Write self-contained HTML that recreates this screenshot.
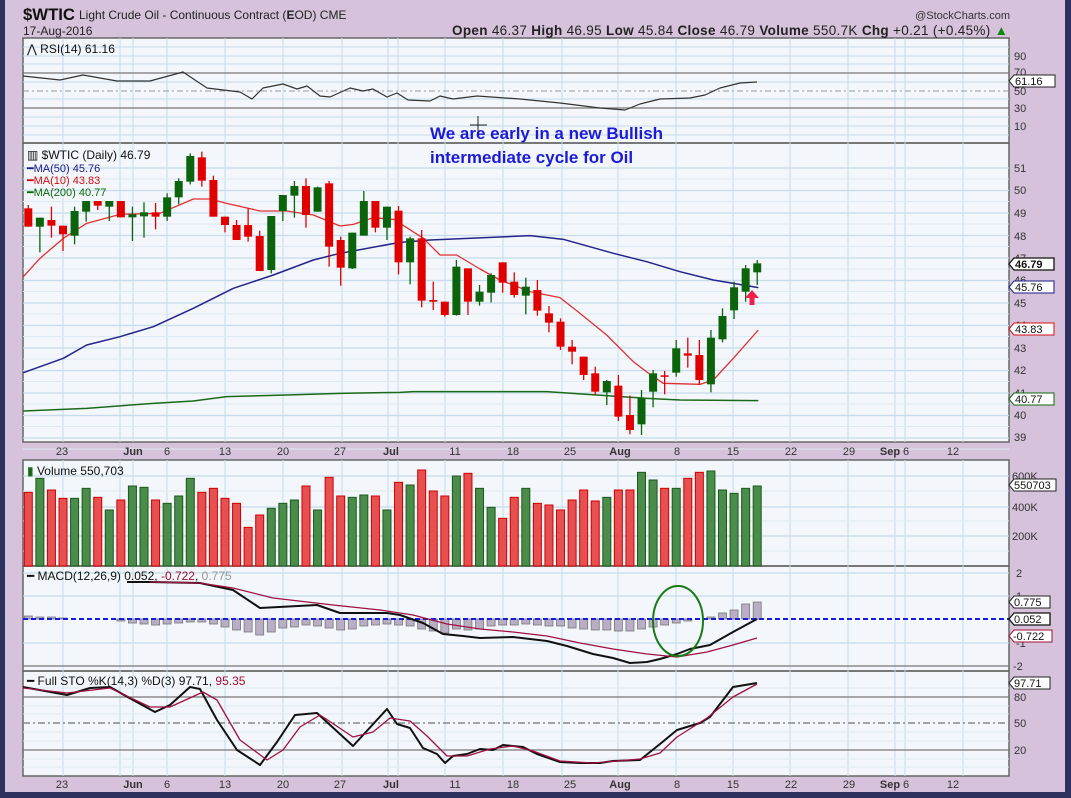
<!DOCTYPE html>
<html><head><meta charset="utf-8"><style>
html,body{margin:0;padding:0;background:#d6c2da;}
svg{display:block;font-family:"Liberation Sans",Arial,sans-serif;}
</style></head><body>
<svg id="s" width="1071" height="798" viewBox="0 0 1071 798" xmlns="http://www.w3.org/2000/svg">
<rect x="0" y="0" width="1071" height="798" fill="#d6c2da"/>
<rect x="0" y="0" width="5" height="798" fill="#2e3160"/>
<rect x="1065" y="0" width="6" height="798" fill="#2e3160"/>
<rect x="0" y="792" width="1071" height="6" fill="#2e3160"/>
<g id="panels"></g>
<g id="grid"></g>
<g id="data"></g>
<!-- header -->
<text x="23" y="20" font-size="17" font-weight="bold" fill="#111" textLength="52" lengthAdjust="spacingAndGlyphs">$WTIC</text>
<text x="79" y="19" font-size="12" fill="#222">Light Crude Oil - Continuous Contract (<tspan font-weight="bold">E</tspan>OD) CME</text>
<text x="23" y="35" font-size="12" fill="#222">17-Aug-2016</text>
<text x="1010" y="19" font-size="11" fill="#333" text-anchor="end">@StockCharts.com</text>
<text x="452" y="35" font-size="13.5" fill="#222" textLength="556" lengthAdjust="spacing"><tspan font-weight="bold">Open</tspan> 46.37  <tspan font-weight="bold">High</tspan> 46.95  <tspan font-weight="bold">Low</tspan> 45.84  <tspan font-weight="bold">Close</tspan> 46.79  <tspan font-weight="bold">Volume</tspan> 550.7K  <tspan font-weight="bold">Chg</tspan> +0.21 (+0.45%) <tspan fill="#0a8a0a">▲</tspan></text>
<!-- panel titles -->
<text x="27" y="53" font-size="12" fill="#111">⋀ RSI(14) 61.16</text>
<text x="27" y="159" font-size="12" fill="#111">▥ $WTIC (Daily) 46.79</text>
<text x="27" y="172" font-size="11" fill="#1a1a8a">━MA(50) 45.76</text>
<text x="27" y="184" font-size="11" fill="#d01010">━MA(10) 43.83</text>
<text x="27" y="196" font-size="11" fill="#0a6a0a">━MA(200) 40.77</text>
<text x="27" y="475" font-size="12" fill="#111"><tspan fill="#1a6a1a">▮</tspan> Volume 550,703</text>
<text x="27" y="580" font-size="12" fill="#111">━ MACD(12,26,9) 0.052, <tspan fill="#a01030">-0.722</tspan>, <tspan fill="#999">0.775</tspan></text>
<text x="27" y="685" font-size="12" fill="#111">━ Full STO %K(14,3) %D(3) 97.71, <tspan fill="#a01030">95.35</tspan></text>
<!-- annotation -->
<text x="430" y="139" font-size="17" font-weight="bold" fill="#1a1ad8">We are early in a new Bullish</text>
<text x="430" y="163" font-size="17" font-weight="bold" fill="#1a1ad8">intermediate cycle for Oil</text>
<path d="M478 116V134M470 125H487" stroke="#222" stroke-width="1"/>
<!-- right axis labels -->
<g font-size="11" fill="#333">
<text x="1014" y="60">90</text><text x="1014" y="76">70</text><text x="1014" y="95">50</text><text x="1014" y="112">30</text><text x="1014" y="130">10</text>
<text x="1014" y="172">51</text><text x="1014" y="194">50</text><text x="1014" y="217">49</text><text x="1014" y="240">48</text><text x="1014" y="262">47</text><text x="1014" y="284">46</text><text x="1014" y="307">45</text><text x="1014" y="329">44</text><text x="1014" y="352">43</text><text x="1014" y="374">42</text><text x="1014" y="397">41</text><text x="1014" y="419">40</text><text x="1014" y="441">39</text>
<text x="1012" y="480">600K</text><text x="1012" y="511">400K</text><text x="1012" y="540">200K</text>
<text x="1016" y="577">2</text><text x="1016" y="600">1</text><text x="1016" y="647">-1</text><text x="1013" y="670">-2</text>
<text x="1014" y="701">80</text><text x="1014" y="727">50</text><text x="1014" y="754">20</text>
</g>
<g font-size="11" fill="#111">
<path d="M1009 81l5-6h41v12h-41z" fill="#fff" stroke="#222"/><text x="1015" y="85">61.16</text>
<path d="M1009 264l5-6h40v12h-40z" fill="#fff" stroke="#111" stroke-width="1.3"/><text x="1015" y="268" font-weight="bold">46.79</text>
<path d="M1009 287l5-6h40v12h-40z" fill="#fff" stroke="#1a1a8a"/><text x="1015" y="291">45.76</text>
<path d="M1009 329l5-6h40v12h-40z" fill="#fff" stroke="#d01010"/><text x="1015" y="333">43.83</text>
<path d="M1009 399l5-6h40v12h-40z" fill="#fff" stroke="#0a6a0a"/><text x="1015" y="403">40.77</text>
<path d="M1009 485l5-6h42v12h-42z" fill="#fff" stroke="#222"/><text x="1014" y="489">550703</text>
<path d="M1009 602l5-6h36v12h-36z" fill="#fff" stroke="#222"/><text x="1014" y="606">0.775</text>
<path d="M1009 619l5-6h36v12h-36z" fill="#fff" stroke="#111" stroke-width="1.3"/><text x="1014" y="623">0.052</text>
<path d="M1009 636l5-6h38v12h-38z" fill="#fff" stroke="#a01030"/><text x="1013" y="640">-0.722</text>
<path d="M1009 683l5-6h36v12h-36z" fill="#fff" stroke="#222"/><text x="1014" y="687">97.71</text>
</g>
<!-- date axes -->
<g font-size="11" fill="#333" text-anchor="middle">
<text x="62" y="455">23</text><text x="133" y="455" font-weight="bold">Jun</text><text x="167" y="455">6</text><text x="225" y="455">13</text><text x="283" y="455">20</text><text x="340" y="455">27</text><text x="391" y="455" font-weight="bold">Jul</text><text x="455" y="455">11</text><text x="513" y="455">18</text><text x="570" y="455">25</text><text x="620" y="455" font-weight="bold">Aug</text><text x="677" y="455">8</text><text x="733" y="455">15</text><text x="791" y="455">22</text><text x="849" y="455">29</text><text x="890" y="455" font-weight="bold">Sep</text><text x="906" y="455">6</text><text x="953" y="455">12</text>
<text x="62" y="788">23</text><text x="133" y="788" font-weight="bold">Jun</text><text x="167" y="788">6</text><text x="225" y="788">13</text><text x="283" y="788">20</text><text x="340" y="788">27</text><text x="391" y="788" font-weight="bold">Jul</text><text x="455" y="788">11</text><text x="513" y="788">18</text><text x="570" y="788">25</text><text x="620" y="788" font-weight="bold">Aug</text><text x="677" y="788">8</text><text x="733" y="788">15</text><text x="791" y="788">22</text><text x="849" y="788">29</text><text x="890" y="788" font-weight="bold">Sep</text><text x="906" y="788">6</text><text x="953" y="788">12</text>
</g>
</svg>
<script>
var NS="http://www.w3.org/2000/svg";
function el(parent,tag,attrs){var e=document.createElementNS(NS,tag);for(var k in attrs)e.setAttribute(k,attrs[k]);document.getElementById(parent).appendChild(e);return e;}
var L=23,R=1009;
var panels=[[38,143],[143,442],[460,566],[566,671],[671,776]];
panels.forEach(function(p){el("panels","rect",{x:L,y:p[0],width:R-L,height:p[1]-p[0],fill:"#f3f6fa"});});
[63,120,133,167,225,283,342,388,398,445,503,562,618,676,733,790,848,895,905,963].forEach(function(x){
 panels.forEach(function(p){el("grid","line",{x1:x,x2:x,y1:p[0],y2:p[1],stroke:"#c4dcec","stroke-width":1});});});
function hl(y,c,w,d){var a={x1:L,x2:R,y1:y,y2:y,stroke:c,"stroke-width":w||1};if(d)a["stroke-dasharray"]=d;el("grid","line",a);}
[47,56,64,82,99,117,126,135].forEach(function(y){hl(y,"#c4dcec");});
hl(73,"#777",1.3);hl(108,"#777",1.3);hl(91,"#999",1,"6,3,2,3");
for(var k=0;k<13;k++){hl(168+22.5*k,"#c4dcec",1.2);hl(179+22.5*k,"#dde9f3",1);}
[476,507,536].forEach(function(y){hl(y,"#c4dcec",1.2);});hl(491,"#dde9f3");hl(521,"#dde9f3");hl(551,"#dde9f3");
[573,596,643].forEach(function(y){hl(y,"#c4dcec",1.2);});hl(666,"#777",1.2);
[688,706,714,732,741,759,767].forEach(function(y){hl(y,"#dde9f3");});
hl(697,"#777",1.2);hl(750,"#777",1.2);hl(723,"#888",1.6,"7,3,2,3");
panels.forEach(function(p){el("panels","rect",{x:L,y:p[0],width:R-L,height:p[1]-p[0],fill:"none",stroke:"#666","stroke-width":1.5});});
function X(i){return 28.3+11.57*i;}
function pl(pts,c,w){el("data","polyline",{points:pts.map(function(p){return p[0]+","+p[1];}).join(" "),fill:"none",stroke:c,"stroke-width":w,"stroke-linejoin":"round"});}
function z5(a){return a.map(function(p){return [20+p[0]/3,145+p[1]/3];});}
function z6(a){return a.map(function(p){return [380+p[0]/3,145+p[1]/3];});}
pl([[23,76],[60,80],[83,75],[117,81],[150,81],[183,72],[207,88],[240,92],[252,99],[263,88],[283,84],[297,89],[307,86],[320,96],[330,97],[350,88],[363,91],[373,89],[387,97],[397,93],[408,100],[430,101],[440,96],[453,99],[477,96],[520,99],[560,103],[600,108],[625,110],[640,104],[660,99],[690,98],[705,95],[720,88],[740,83],[757,82]],"#333",1.2);
pl(z5([[10,798],[200,790],[400,775],[520,768],[620,755],[800,750],[960,745],[1140,742]]).concat(z6([[100,740],[500,740],[650,750],[800,760],[900,765],[1135,767]])),"#1a6a1a",1.5);
pl(z5([[10,683],[130,640],[200,600],[300,575],[400,545],[520,490],[640,430],[760,390],[880,345],[960,325],[1140,292]]).concat(z6([[150,285],[450,272],[550,283],[700,325],[800,350],[900,380],[1000,405],[1060,415],[1135,428]])),"#23238a",1.5);
pl(z5([[10,395],[60,340],[130,280],[200,235],[300,208],[420,205],[520,162],[570,162],[620,175],[720,198],[800,198],[880,210],[960,243],[1000,238],[1060,218],[1140,225]]).concat(z6([[60,235],[130,280],[180,330],[230,330],[300,372],[360,405],[450,440],[540,458],[600,505],[680,570],[760,650],[810,688],[850,715],[960,718],[1000,705],[1060,640],[1135,555]])),"#e03030",1.3);
var C=[["r",190,245,180,245],["g",218,245,218,322],["r",225,242,185,278],["r",242,268,242,318],["g",198,272,185,298],["g",168,200,168,230],["r",168,182,168,195],["g",168,185,168,228],["r",168,217,168,217],["g",208,217,185,288],["g",202,214,172,278],["r",202,215,174,253],["g",157,215,145,228],["g",108,157,100,178],["g",33,110,25,118],["r",37,107,20,125],["r",105,215,92,215],["r",215,240,215,262],["r",240,285,225,285],["r",240,275,190,290],["r",273,378,257,378],["g",213,375,213,385],["g",150,198,150,228],["g",123,152,108,218],["r",123,210,100,248],["g",127,200,125,200],["r",115,305,108,365],["r",285,368,275,422],["g",263,370,263,372],["g",168,272,138,272],["r",168,248,168,262],["g",185,248,185,285],["r",197,352,183,388],
["g",280,352,275,418],["r",280,467,255,487],["r",465,470,410,495],["r",470,510,470,515],["g",365,510,345,512],["r",370,470,370,510],["g",440,470,420,482],["g",390,443,385,472],["r",352,413,352,443],["r",410,450,382,458],["g",425,452,398,508],["r",435,497,405,512],["r",505,533,483,562],["r",530,605,520,615],["r",605,620,585,658],["r",635,690,635,705],["r",685,740,665,750],["g",708,742,705,780],["r",722,815,690,828],["r",810,855,752,868],["g",758,838,735,870],["g",685,740,675,787],["r",691,694,678,748],["g",610,683,585,695],["r",625,632,578,668],["r",630,705,585,720],["g",578,718,555,742],["g",513,583,490,592],["g",427,496,410,522],["g",370,440,360,470],["g",355,382,345,420]];
C.forEach(function(c,i){var x=X(i),col=c[0]=="r"?"#e00000":"#0b640b";
 el("data","line",{x1:x,x2:x,y1:145+c[3]/3,y2:145+c[4]/3,stroke:col,"stroke-width":1.3});
 var t=145+c[1]/3,b=145+c[2]/3;el("data","rect",{x:x-4,y:t,width:8,height:Math.max(1.5,b-t),fill:col});});
el("data","path",{d:"M752 290l-7 8h4.5v7h5v-7h4.5z",fill:"#f0204a"});
var V="r97,g55,r90,r115,g115,g85,r112,g150,r120,g78,g82,r120,g130,g108,g55,r97,r85,r115,r130,r202,r165,g145,g130,g120,r78,g150,r52,r108,g112,g105,r108,g150,r67,g75,r30,r93,r108,g48,r40,g85,g142,r175,r112,g85,r130,r135,r150,r120,r90,r123,g112,r90,r90,g37,g60,r85,g85,r55,r37,g33,g90,g100,g85,g78".split(",");
V.forEach(function(v,i){var t=460+(+v.slice(1))/3,r=v[0]=="r";
 el("data","rect",{x:X(i)-4,y:t,width:8,height:566-t,fill:r?"#e65050":"#4a8c4a",stroke:r?"#d00000":"#1a5a1a","stroke-width":1});});
var H=[3,2,2,1,0,0,0,0,-2,-4,-5,-6,-5,-4,-3,-3,-5,-8,-11,-13,-16,-13,-9,-8,-6,-7,-9,-11,-10,-7,-6,-5,-6,-7,-10,-12,-14,-10,-11,-10,-7,-6,-6,-5,-6,-7,-7,-9,-10,-11,-11,-12,-12,-10,-8,-6,-4,-2,0,2,6,9,15,17];
H.forEach(function(h,i){if(h==0)return;var y=h>0?619-h:619;el("data","rect",{x:X(i)-4,y:y,width:8,height:Math.abs(h),fill:"#b8afc4",stroke:"#777","stroke-width":0.8});});
el("data","line",{x1:L,x2:R,y1:619,y2:619,stroke:"#1a1adc","stroke-width":2,"stroke-dasharray":"5,3"});
pl([[127,582],[150,582],[200,583],[233,590],[260,608],[317,605],[340,613],[367,613],[387,613],[400,615],[423,623],[443,634],[463,636],[480,638],[513,637],[547,641],[567,646],[593,654],[613,658],[630,663],[647,662],[660,659],[677,654],[690,649],[710,645],[733,632],[757,619]],"#111",2);
pl([[150,582],[200,583],[233,588],[273,598],[333,605],[380,610],[413,615],[447,624],[480,629],[513,632],[547,636],[580,643],[613,649],[647,654],[677,657],[707,652],[733,645],[757,638]],"#a01040",1.3);
el("data","ellipse",{cx:678,cy:621,rx:25,ry:35,fill:"none",stroke:"#1a7a1a","stroke-width":2});
pl([[23,687],[67,695],[90,688],[110,687],[133,700],[155,712],[170,705],[190,687],[200,689],[217,720],[237,750],[260,765],[277,742],[295,715],[317,713],[353,746],[387,709],[397,724],[410,728],[423,748],[437,754],[445,763],[453,756],[467,754],[480,749],[493,750],[503,745],[523,747],[537,754],[560,762],[580,763],[600,763],[613,761],[640,760],[660,744],[677,730],[700,723],[710,717],[733,687],[757,683]],"#111",2);
pl([[23,688],[67,693],[110,688],[150,707],[170,707],[203,692],[217,700],[240,740],[267,760],[283,750],[300,727],[320,715],[353,737],[373,732],[390,718],[410,721],[427,736],[447,756],[467,756],[490,749],[513,746],[533,751],[560,761],[593,763],[640,759],[660,753],[677,737],[707,718],[733,697],[757,684]],"#a01040",1.3);
</script>
</body></html>
